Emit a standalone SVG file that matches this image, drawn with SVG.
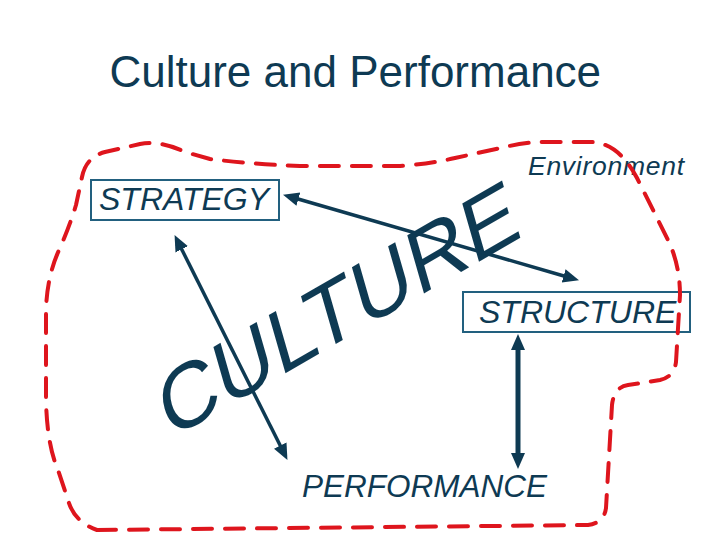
<svg xmlns="http://www.w3.org/2000/svg" width="720" height="540" viewBox="0 0 720 540">
  <defs>
    <style>
      .lbl { font-family: "Liberation Sans", Arial, sans-serif; fill: #0e3a53; }
      .it { font-style: italic; }
      .box { fill: none; stroke: #22607f; stroke-width: 2; }
      .arr { fill: none; stroke: #0e3a53; stroke-width: 3.5; marker-start: url(#ah); marker-end: url(#ah); }
      .thick { stroke-width: 5; }
      .env { fill: none; stroke: #de151d; stroke-width: 4; stroke-dasharray: 19 13; stroke-linecap: round; stroke-linejoin: round; }
    </style>
    <marker id="ah" markerUnits="userSpaceOnUse" markerWidth="17" markerHeight="15" viewBox="0 0 17 15" refX="3" refY="7" orient="auto-start-reverse">
      <path d="M0,0 L16,7 L0,14 z" fill="#0e3a53"/>
    </marker>
  </defs>
  <rect width="720" height="540" fill="#ffffff"/>

  <g id="title">
    <text class="lbl" x="109.5" y="87" font-size="44">Culture and Performance</text>
  </g>

  <g id="culture">
    <text class="lbl" font-size="88" transform="matrix(0.866 -0.5 0.276 0.961 169.3 440.3)">CULTURE</text>
  </g>

  <g id="strategy">
    <rect class="box" x="91" y="180" width="188" height="40"/>
    <text class="lbl it" x="99" y="210" font-size="32">STRATEGY</text>
  </g>

  <g id="structure">
    <rect class="box" x="463" y="292" width="227" height="40"/>
    <text class="lbl it" x="479" y="322.7" font-size="32">STRUCTURE</text>
  </g>

  <g id="performance">
    <text class="lbl it" x="302" y="497" font-size="31.5">PERFORMANCE</text>
  </g>

  <g id="environment-label">
    <text class="lbl it" x="528" y="175" font-size="26.5" textLength="156" lengthAdjust="spacing">Environment</text>
  </g>

  <g id="connectors">
    <line class="arr" x1="295.5" y1="198.3" x2="566.5" y2="276.7"/>
    <line class="arr" x1="180.4" y1="246.7" x2="281.6" y2="448.3"/>
    <line class="arr thick" x1="518" y1="347" x2="518" y2="456"/>
  </g>

  <g id="environment-boundary">
    <path class="env" d="M 97,530 L 588,525 Q 604,523 606,508 L 612,405 Q 614,387 628,385 L 660,380 Q 674,377 676,362 L 680,295 Q 680,265 668,240 L 637,178 Q 618,142 590,142 L 545,142 Q 525,142 505,147 L 455,158 Q 430,164 400,166 L 300,166 Q 250,164 210,159 L 185,152 Q 160,140 140,144 L 105,152 Q 86,157 82,177 L 76,205 Q 70,225 60,248 Q 47,275 46,310 L 46,400 Q 47,445 58,470 L 68,500 Q 74,522 97,530 Z"/>
  </g>
</svg>
